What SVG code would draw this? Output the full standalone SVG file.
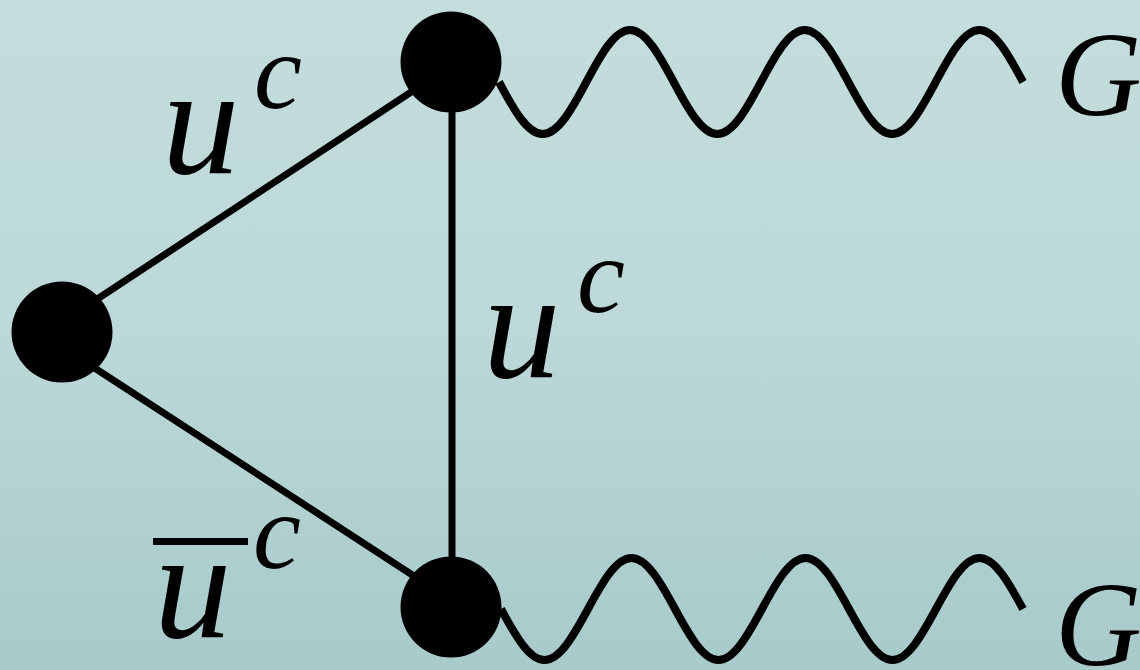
<svg xmlns="http://www.w3.org/2000/svg" width="1140" height="670" viewBox="0 0 1140 670">
<defs>
<linearGradient id="bg" x1="0" y1="0" x2="0" y2="1">
<stop offset="0" stop-color="#c4dddd"/>
<stop offset="0.5" stop-color="#bcd8d8"/>
<stop offset="1" stop-color="#a7caca"/>
</linearGradient>
<style>
.ln{stroke:#000;stroke-width:7;fill:none}
.wv{stroke:#000;stroke-width:8;fill:none;stroke-linecap:butt}
.nd{fill:#000}
.lb{font-family:"Liberation Serif","DejaVu Serif",serif;font-style:italic;fill:#000}
.big{font-size:155px}
.sup{font-size:108px}
.g{font-size:120px}
</style>
</defs>
<rect width="1140" height="670" fill="url(#bg)"/>
<g id="connectors">
<line class="ln" x1="70" y1="317" x2="440" y2="73"/>
<line class="ln" x1="70" y1="352" x2="440" y2="593"/>
<line class="ln" x1="452" y1="62" x2="452" y2="607"/>
<path class="wv" d="M499,82 c14.24,26.64 28.07,52 43.67,52 c15.6,0 29.43,-25.36 43.67,-52 c14.24,-26.64 28.07,-52 43.67,-52 c15.6,0 29.43,25.36 43.67,52 c14.24,26.64 28.07,52 43.67,52 c15.6,0 29.43,-25.36 43.67,-52 c14.24,-26.64 28.07,-52 43.67,-52 c15.6,0 29.43,25.36 43.67,52 c14.24,26.64 28.07,52 43.67,52 c15.6,0 29.43,-25.36 43.67,-52 c14.24,-26.64 28.07,-52 43.67,-52 c15.6,0 29.43,25.36 43.67,52"/>
<path class="wv" d="M501,609 c14.2,26.13 28,51 43.5,51 c15.5,0 29.3,-24.87 43.5,-51 c14.2,-26.13 28,-51 43.5,-51 c15.5,0 29.3,24.87 43.5,51 c14.2,26.13 28,51 43.5,51 c15.5,0 29.3,-24.87 43.5,-51 c14.2,-26.13 28,-51 43.5,-51 c15.5,0 29.3,24.87 43.5,51 c14.2,26.13 28,51 43.5,51 c15.5,0 29.3,-24.87 43.5,-51 c14.2,-26.13 28,-51 43.5,-51 c15.5,0 29.3,24.87 43.5,51"/>
</g>
<g id="node-left"><circle class="nd" cx="62" cy="332" r="50.5"/></g>
<g id="node-top"><circle class="nd" cx="451" cy="62" r="50.5"/></g>
<g id="node-bottom"><circle class="nd" cx="451" cy="607" r="50.5"/></g>
<g id="labels">
<text class="lb big" x="162" y="173">u</text>
<text class="lb sup" x="254" y="108">c</text>
<text class="lb big" x="483" y="377">u</text>
<text class="lb sup" x="577" y="312">c</text>
<rect x="153" y="538" width="95" height="7" fill="#000"/>
<text class="lb big" x="154" y="637">u</text>
<text class="lb sup" x="253" y="568">c</text>
<text class="lb g" x="1055" y="115">G</text>
<text class="lb g" x="1055" y="665">G</text>
</g>
</svg>
